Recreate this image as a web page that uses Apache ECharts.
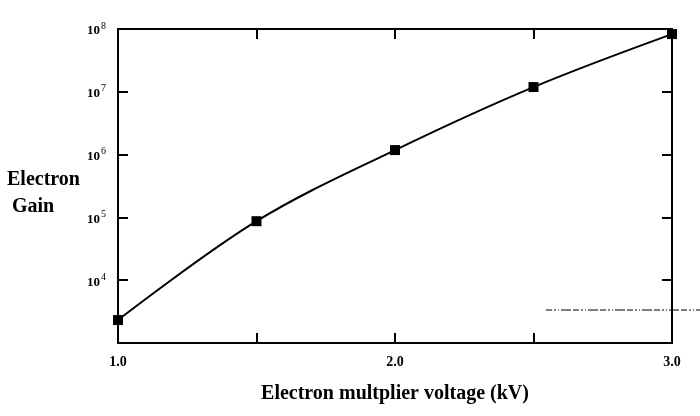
<!DOCTYPE html>
<html>
<head>
<meta charset="utf-8">
<script src="https://cdn.jsdelivr.net/npm/echarts@6/dist/echarts.min.js"></script>
<style>
html,body{margin:0;padding:0;background:#fff;}
#chart{width:700px;height:416px;}
</style>
</head>
<body>
<div id="chart"></div>
<script>
var voltages = [1.0, 1.5, 2.0, 2.5, 3.0];
var gains = [2320, 87000, 1180000, 11900000, 83000000];
var xTickLabels = {1: '1.0', 2: '2.0', 3: '3.0'};
var yTickExponents = [4, 5, 6, 7, 8];
var xAxisTitle = 'Electron multplier voltage (kV)';
var yAxisTitle = ['Electron', ' Gain'];

var FONT = '"Liberation Serif", "Times New Roman", serif';
var chart = echarts.init(document.getElementById('chart'), null, {renderer: 'canvas'});

var axisLine = {show: true, lineStyle: {color: '#000', width: 2}};
var axisTick = {show: true, inside: true, length: 10, lineStyle: {color: '#000', width: 2}};

var option = {
  backgroundColor: '#fff',
  animation: false,
  grid: {left: 118, right: 28, top: 29, bottom: 73, containLabel: false},
  xAxis: [{
    type: 'value', position: 'bottom', min: 1.0, max: 3.0, interval: 0.5,
    axisLine: axisLine, axisTick: axisTick, splitLine: {show: false},
    axisLabel: {
      margin: 12, color: '#000', fontFamily: FONT, fontWeight: 'bold', fontSize: 14,
      formatter: function (v) { var k = Math.round(v * 10) / 10; return xTickLabels[k] || ''; }
    },
    name: xAxisTitle, nameLocation: 'middle', nameGap: 41,
    nameTextStyle: {color: '#000', fontFamily: FONT, fontWeight: 'bold', fontSize: 20}
  }, {
    type: 'value', position: 'top', min: 1.0, max: 3.0, interval: 0.5,
    axisLine: axisLine, axisTick: axisTick, splitLine: {show: false},
    axisLabel: {show: false}
  }],
  yAxis: [{
    type: 'log', logBase: 10, position: 'left', min: 1000, max: 100000000,
    axisLine: axisLine, axisTick: axisTick, splitLine: {show: false}, minorTick: {show: false},
    axisLabel: {
      margin: 12, color: '#000', fontFamily: FONT,
      formatter: function (v) {
        var e = Math.round(Math.log(v) / Math.LN10);
        if (yTickExponents.indexOf(e) < 0) return '';
        return '{b|10}{s|' + e + '}';
      },
      rich: {
        b: {fontFamily: FONT, fontWeight: 'bold', fontSize: 13, color: '#000', lineHeight: 16, padding: [4, 0, 0, 0]},
        s: {fontFamily: FONT, fontSize: 10, color: '#000', verticalAlign: 'top', lineHeight: 16, padding: [0, 0, 0, 1]}
      }
    }
  }, {
    type: 'log', logBase: 10, position: 'right', min: 1000, max: 100000000,
    axisLine: axisLine, axisTick: axisTick, splitLine: {show: false},
    axisLabel: {show: false}
  }],
  graphic: [{
    type: 'text', left: 7, top: 166,
    style: {
      text: yAxisTitle.join('\n'), fill: '#000',
      font: 'bold 20px ' + FONT, lineHeight: 27
    }
  }, {
    type: 'line', silent: true,
    shape: {x1: 546, y1: 310, x2: 700, y2: 310},
    style: {stroke: '#000', lineWidth: 1, lineDash: [6, 2, 2, 2, 1, 2, 10, 2]}
  }],
  series: [{
    type: 'line', xAxisIndex: 0, yAxisIndex: 0,
    data: voltages.map(function (v, i) { return [v, gains[i]]; }),
    smooth: 0.35,
    symbol: 'rect', symbolSize: 10,
    lineStyle: {color: '#000', width: 2},
    itemStyle: {color: '#000'},
    clip: false
  }]
};
chart.setOption(option);
</script>
</body>
</html>
